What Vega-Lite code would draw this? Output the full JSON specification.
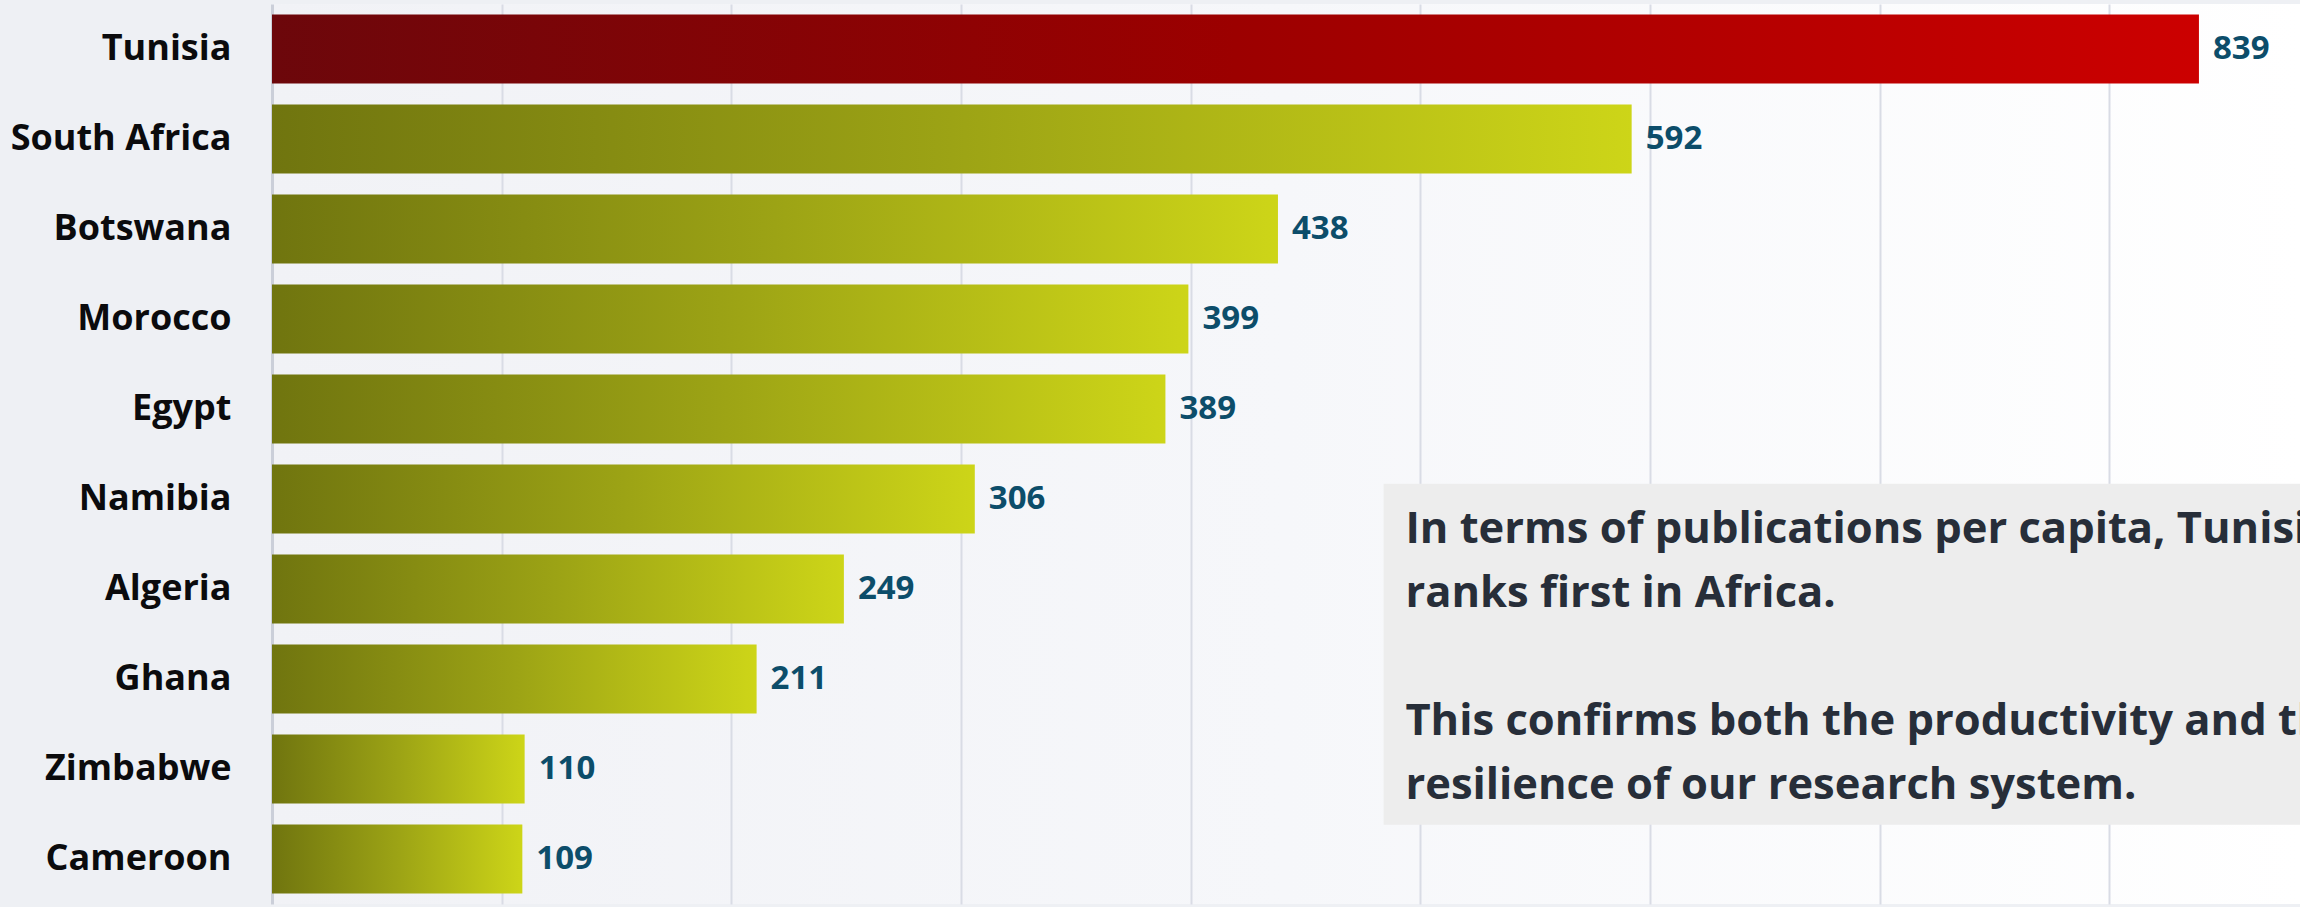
{
  "$schema": "https://vega.github.io/schema/vega-lite/v6.json",
  "width": 2028,
  "height": 900,
  "autosize": {"type": "none"},
  "padding": {"left": 272, "top": 4, "right": 0, "bottom": 3},
  "background": "#eef0f4",
  "view": {
    "stroke": null,
    "fill": {"gradient": "linear", "x1": 0, "y1": 0, "x2": 1, "y2": 0, "stops": [{"offset": 0, "color": "#f1f2f6"}, {"offset": 0.5, "color": "#f6f7fa"}, {"offset": 1, "color": "#ffffff"}]}
  },
  "config": {"font": "Open Sans"},
  "resolve": {"scale": {"y": "independent"}},
  "layer": [
    {
      "data": {"values": [
        {"country": "Tunisia", "value": 839},
        {"country": "South Africa", "value": 592},
        {"country": "Botswana", "value": 438},
        {"country": "Morocco", "value": 399},
        {"country": "Egypt", "value": 389},
        {"country": "Namibia", "value": 306},
        {"country": "Algeria", "value": 249},
        {"country": "Ghana", "value": 211},
        {"country": "Zimbabwe", "value": 110},
        {"country": "Cameroon", "value": 109}
      ]},
      "encoding": {
        "y": {
          "field": "country", "type": "nominal",
          "sort": ["Tunisia", "South Africa", "Botswana", "Morocco", "Egypt", "Namibia", "Algeria", "Ghana", "Zimbabwe", "Cameroon"],
          "scale": {"paddingInner": 0.233, "paddingOuter": 0.1167},
          "axis": {"title": null, "ticks": false, "domain": true, "domainColor": "#cbcfd9", "domainWidth": 3,
                   "labelFont": "Open Sans", "labelFontWeight": "bold", "labelFontSize": 36, "labelColor": "#0b0b0d",
                   "labelPadding": 41, "labelLimit": 400}
        },
        "x": {
          "field": "value", "type": "quantitative",
          "scale": {"domain": [0, 883], "nice": false},
          "axis": {"title": null, "labels": false, "ticks": false, "domain": false, "grid": true,
                   "values": [100, 200, 300, 400, 500, 600, 700, 800], "gridColor": "#d9dce5", "gridWidth": 2}
        }
      },
      "layer": [
        {
          "transform": [{"filter": "datum.country !== 'Tunisia'"}],
          "mark": {"type": "bar", "fill": {"gradient": "linear", "x1": 0, "y1": 0, "x2": 1, "y2": 0, "stops": [{"offset": 0, "color": "#70750f"}, {"offset": 0.5, "color": "#9ca315"}, {"offset": 1, "color": "#cdd518"}]}}
        },
        {
          "transform": [{"filter": "datum.country === 'Tunisia'"}],
          "mark": {"type": "bar", "fill": {"gradient": "linear", "x1": 0, "y1": 0, "x2": 1, "y2": 0, "stops": [{"offset": 0, "color": "#6c070b"}, {"offset": 0.5, "color": "#9c0000"}, {"offset": 1, "color": "#cc0000"}]}}
        },
        {
          "mark": {"type": "text", "align": "left", "baseline": "middle", "dx": 14, "font": "Open Sans", "fontWeight": "bold", "fontSize": 33, "color": "#0c4d6a"},
          "encoding": {"text": {"field": "value", "type": "quantitative"}}
        }
      ]
    },
    {
      "data": {"values": [
        {"x0": 484, "x1": 883, "y0": 5.33, "y1": 9.12}
      ]},
      "mark": {"type": "rect", "color": "#ededed"},
      "encoding": {
        "x": {"field": "x0", "type": "quantitative", "scale": {"domain": [0, 883], "nice": false}},
        "x2": {"field": "x1"},
        "y": {"field": "y0", "type": "quantitative", "scale": {"domain": [0, 10], "reverse": true, "nice": false, "zero": false}, "axis": null},
        "y2": {"field": "y1"}
      }
    },
    {
      "data": {"values": [
        {"note": "In terms of publications per capita, Tunisia\nranks first in Africa.", "tx": 493.5, "ty": 5.99},
        {"note": "This confirms both the productivity and the\nresilience of our research system.", "tx": 493.5, "ty": 8.12}
      ]},
      "mark": {"type": "text", "align": "left", "baseline": "alphabetic", "lineBreak": "\n", "lineHeight": 64, "font": "Open Sans", "fontWeight": "bold", "fontSize": 43.5, "color": "#272e39"},
      "encoding": {
        "x": {"field": "tx", "type": "quantitative", "scale": {"domain": [0, 883], "nice": false}},
        "y": {"field": "ty", "type": "quantitative", "scale": {"domain": [0, 10], "reverse": true, "nice": false, "zero": false}, "axis": null},
        "text": {"field": "note", "type": "nominal"}
      }
    }
  ]
}
